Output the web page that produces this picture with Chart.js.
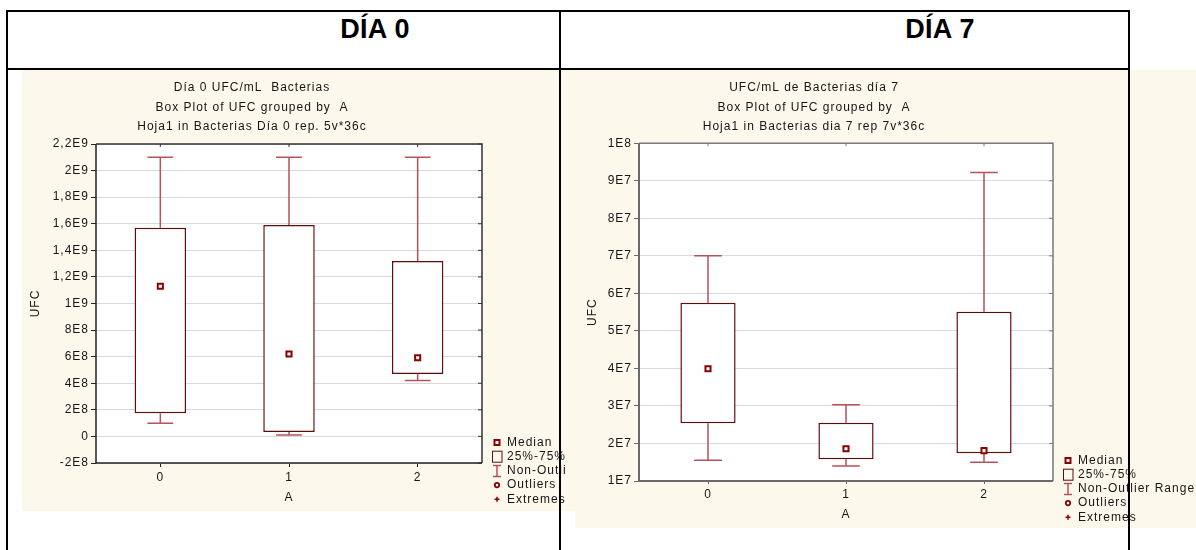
<!DOCTYPE html>
<html lang="es">
<head>
<meta charset="utf-8">
<title>UFC/mL Bacterias - Día 0 / Día 7</title>
<script src="https://cdn.jsdelivr.net/npm/chart.js@4.4.1/dist/chart.umd.min.js"></script>
<style>
  html, body { margin: 0; padding: 0; background: #fff; width: 1196px; height: 550px; overflow: hidden; }
  body { position: relative; font-family: "Liberation Sans", Arial, sans-serif; }
  .line { position: absolute; background: #000; }
  .head { position: absolute; top: 14px; font-weight: bold; font-size: 27px; letter-spacing: 0.3px; color: #000; transform: translateX(-50%); white-space: nowrap; }
  .paper { position: absolute; background: #fdf8ec; }
  .wrap { position: absolute; overflow: hidden; }
  canvas { display: block; }
</style>
</head>
<body>

<!-- fondo beige de cada gráfico -->
<div class="paper" style="left:22px; top:70px; width:553px; height:441px;"></div>
<div class="paper" style="left:575px; top:70px; width:621px; height:458px;"></div>

<div class="wrap" style="left:22px; top:70px; width:544px; height:441px;">
  <canvas id="chartDay0" width="612" height="441"></canvas>
</div>
<div class="wrap" style="left:575px; top:70px; width:621px; height:458px;">
  <canvas id="chartDay7" width="632" height="458"></canvas>
</div>

<!-- tabla -->
<div class="head" style="left:375px;">DÍA 0</div>
<div class="head" style="left:940px;">DÍA 7</div>
<div class="line" style="left:6px; top:10px; width:1124px; height:2px;"></div>
<div class="line" style="left:6px; top:68px; width:1124px; height:2px;"></div>
<div class="line" style="left:6px; top:10px; width:2px; height:540px;"></div>
<div class="line" style="left:559px; top:10px; width:2px; height:540px;"></div>
<div class="line" style="left:1128px; top:10px; width:2px; height:540px;"></div>

<script>
// Box plots UFC/mL - Statistica

// Grupos (A)
const categories = ['0', '1', '2'];

// Día 0
const day0Low = [1.0e8, 1.0e7, 4.2e8];
const day0Q1 = [1.75e8, 3.3e7, 4.7e8];
const day0Median = [1.13e9, 6.2e8, 5.92e8];
const day0Q3 = [1.57e9, 1.59e9, 1.32e9];
const day0High = [2.1e9, 2.1e9, 2.1e9];
const day0Ticks = ['-2E8', '0', '2E8', '4E8', '6E8', '8E8', '1E9', '1,2E9', '1,4E9', '1,6E9', '1,8E9', '2E9', '2,2E9'];
const day0Title = ['Día 0 UFC/mL  Bacterias', 'Box Plot of UFC grouped by  A', 'Hoja1 in Bacterias Día 0 rep. 5v*36c'];

// Día 7
const day7Low = [1.55e7, 1.4e7, 1.5e7];
const day7Q1 = [2.54e7, 1.58e7, 1.74e7];
const day7Median = [3.99e7, 1.86e7, 1.81e7];
const day7Q3 = [5.75e7, 2.55e7, 5.51e7];
const day7High = [7.0e7, 3.03e7, 9.22e7];
const day7Ticks = ['1E7', '2E7', '3E7', '4E7', '5E7', '6E7', '7E7', '8E7', '9E7', '1E8'];
const day7Title = ['UFC/mL de Bacterias día 7', 'Box Plot of UFC grouped by  A', 'Hoja1 in Bacterias dia 7 rep 7v*36c'];

const legendLabels = ['Median', '25%-75%', 'Non-Outlier Range', 'Outliers', 'Extremes'];

// Colores
const BOX_COLOR = '#5e0d0d';
const WHISKER_COLOR = '#b5525a';
const MEDIAN_COLOR = '#8b0000';
const TEXT_COLOR = '#161616';
const LETTER_SPACING = '1px';

Chart.defaults.font.family = '"Liberation Sans", Arial, sans-serif';
Chart.defaults.font.size = 12;
Chart.defaults.color = TEXT_COLOR;

// Espaciado de letras (el texto de Statistica es más ancho)
const spacingPlugin = {
    id: 'spacing',
    beforeUpdate(chart) { chart.ctx.letterSpacing = LETTER_SPACING; },
    beforeDraw(chart) { chart.ctx.letterSpacing = LETTER_SPACING; }
};

// Fondo blanco del área y marco
const framePlugin = {
    id: 'frame',
    beforeDraw(chart) {
        const { ctx, chartArea: a } = chart;
        ctx.save();
        ctx.fillStyle = '#ffffff';
        ctx.fillRect(a.left, a.top, a.width, a.height);
        ctx.restore();
    },
    afterDraw(chart, args, opts) {
        const { ctx, chartArea: a, scales: { x, y } } = chart;
        ctx.save();
        // marco superior / derecho
        ctx.strokeStyle = opts.color;
        ctx.lineWidth = opts.width;
        ctx.beginPath();
        ctx.moveTo(a.left, a.top);
        ctx.lineTo(a.right, a.top);
        ctx.lineTo(a.right, a.bottom);
        ctx.stroke();
        // marcas internas
        ctx.lineWidth = 1;
        ctx.beginPath();
        y.ticks.forEach(t => {
            const py = y.getPixelForValue(t.value);
            ctx.moveTo(a.right, py);
            ctx.lineTo(a.right - 4, py);
        });
        categories.forEach((c, i) => {
            const px = x.getPixelForValue(i);
            ctx.moveTo(px, a.top);
            ctx.lineTo(px, a.top + 3);
        });
        ctx.stroke();
        // ejes
        ctx.strokeStyle = opts.axisColor;
        ctx.lineWidth = opts.axisWidth;
        ctx.beginPath();
        ctx.moveTo(a.left, a.top);
        ctx.lineTo(a.left, a.bottom);
        ctx.lineTo(a.right, a.bottom);
        ctx.stroke();
        ctx.restore();
    }
};

// Bigotes (rango sin outliers)
const whiskerPlugin = {
    id: 'whiskers',
    beforeDatasetsDraw(chart, args, opts) {
        const { ctx, scales: { x, y } } = chart;
        const bars = chart.getDatasetMeta(1).data;
        ctx.save();
        ctx.strokeStyle = WHISKER_COLOR;
        ctx.lineWidth = 1.5;
        ctx.beginPath();
        opts.low.forEach((low, i) => {
            const cx = x.getPixelForValue(i);
            const half = bars[i].width / 4;
            const yLow = y.getPixelForValue(low);
            const yQ1 = y.getPixelForValue(opts.q1[i]);
            const yQ3 = y.getPixelForValue(opts.q3[i]);
            const yHigh = y.getPixelForValue(opts.high[i]);
            ctx.moveTo(cx, yQ3); ctx.lineTo(cx, yHigh);
            ctx.moveTo(cx - half, yHigh); ctx.lineTo(cx + half, yHigh);
            ctx.moveTo(cx, yQ1); ctx.lineTo(cx, yLow);
            ctx.moveTo(cx - half, yLow); ctx.lineTo(cx + half, yLow);
        });
        ctx.stroke();
        ctx.restore();
    }
};

// Leyenda de Statistica
const legendPlugin = {
    id: 'boxLegend',
    afterDraw(chart) {
        const { ctx, chartArea: a } = chart;
        const mx = a.right + 15;
        const tx = a.right + 25;
        ctx.save();
        ctx.letterSpacing = LETTER_SPACING;
        ctx.font = '12px "Liberation Sans", Arial, sans-serif';
        ctx.textBaseline = 'middle';
        legendLabels.forEach((label, i) => {
            const cy = a.bottom - 20.5 + i * 14.2;
            ctx.lineWidth = 1.5;
            if (i === 0) {
                ctx.fillStyle = '#fff';
                ctx.strokeStyle = MEDIAN_COLOR;
                ctx.lineWidth = 2;
                ctx.fillRect(mx - 2.5, cy - 2.5, 5, 5);
                ctx.strokeRect(mx - 2.5, cy - 2.5, 5, 5);
            } else if (i === 1) {
                ctx.strokeStyle = BOX_COLOR;
                ctx.lineWidth = 1;
                ctx.strokeRect(mx - 4.5, cy - 5.5, 9.5, 11);
            } else if (i === 2) {
                ctx.strokeStyle = WHISKER_COLOR;
                ctx.beginPath();
                ctx.moveTo(mx, cy - 5.5); ctx.lineTo(mx, cy + 5.5);
                ctx.moveTo(mx - 4, cy - 5.5); ctx.lineTo(mx + 4, cy - 5.5);
                ctx.moveTo(mx - 4, cy + 5.5); ctx.lineTo(mx + 4, cy + 5.5);
                ctx.stroke();
            } else if (i === 3) {
                ctx.fillStyle = '#fff';
                ctx.strokeStyle = MEDIAN_COLOR;
                ctx.lineWidth = 1.8;
                ctx.beginPath();
                ctx.arc(mx, cy, 2.2, 0, Math.PI * 2);
                ctx.fill();
                ctx.stroke();
            } else {
                ctx.strokeStyle = MEDIAN_COLOR;
                ctx.beginPath();
                ctx.moveTo(mx - 2.5, cy); ctx.lineTo(mx + 2.5, cy);
                ctx.moveTo(mx, cy - 2.5); ctx.lineTo(mx, cy + 2.5);
                ctx.stroke();
            }
            ctx.fillStyle = TEXT_COLOR;
            ctx.fillText(label, tx, cy);
        });
        ctx.restore();
    }
};

// Construcción de un box plot
function buildBoxPlot(canvasId, cfg) {
    const ctx = document.getElementById(canvasId);
    return new Chart(ctx, {
        type: 'bar',
        data: {
            labels: categories,
            datasets: [{
                type: 'line',
                label: 'Median',
                data: cfg.median,
                showLine: false,
                pointStyle: 'rect',
                pointRadius: 3.6,
                pointBorderWidth: 2,
                pointBorderColor: MEDIAN_COLOR,
                pointBackgroundColor: '#ffffff',
                order: 0
            }, {
                label: '25%-75%',
                data: cfg.q1.map((v, i) => [v, cfg.q3[i]]),
                backgroundColor: '#ffffff',
                borderColor: BOX_COLOR,
                borderWidth: 1.5,
                borderSkipped: false,
                barPercentage: 0.4,
                categoryPercentage: 1,
                order: 1
            }]
        },
        options: {
            responsive: false,
            animation: false,
            layout: { padding: { left: 0, right: cfg.padRight, top: 0, bottom: 0 } },
            plugins: {
                legend: { display: false },
                tooltip: { enabled: false },
                title: {
                    display: true,
                    text: cfg.title,
                    color: TEXT_COLOR,
                    font: { size: 12, weight: 'normal', lineHeight: '19.5px' },
                    padding: { top: 8.25, bottom: cfg.titleGap }
                },
                whiskers: { low: cfg.low, q1: cfg.q1, q3: cfg.q3, high: cfg.high },
                frame: cfg.frame
            },
            scales: {
                x: {
                    offset: true,
                    border: { display: false },
                    grid: { display: true, offset: false, drawOnChartArea: false, tickLength: cfg.xTick, tickColor: cfg.frame.axisColor },
                    ticks: { padding: 3, color: TEXT_COLOR },
                    title: { display: true, text: 'A', color: TEXT_COLOR, padding: { top: 0, bottom: 6 } },
                    afterFit(scale) { scale.height = cfg.xHeight; }
                },
                y: {
                    min: cfg.min,
                    max: cfg.max,
                    border: { display: false },
                    grid: { color: '#dadada', lineWidth: 1, tickLength: 5, tickColor: cfg.frame.axisColor },
                    ticks: {
                        stepSize: cfg.step,
                        padding: 2,
                        color: TEXT_COLOR,
                        callback: (value, index) => cfg.tickLabels[index]
                    },
                    title: { display: true, text: 'UFC', color: TEXT_COLOR, padding: { top: cfg.yTitlePad, bottom: 0 } },
                    afterFit(scale) { scale.width = cfg.yWidth; }
                }
            }
        },
        plugins: [spacingPlugin, framePlugin, whiskerPlugin, legendPlugin]
    });
}

document.addEventListener('DOMContentLoaded', function () {
    buildBoxPlot('chartDay0', {
        title: day0Title,
        low: day0Low, q1: day0Q1, median: day0Median, q3: day0Q3, high: day0High,
        tickLabels: day0Ticks,
        min: -2e8, max: 2.2e9, step: 2e8,
        padRight: 152, titleGap: 7.25,
        yWidth: 74, xHeight: 48, xTick: 4, yTitlePad: 6,
        frame: { color: '#333333', width: 1.5, axisColor: '#222222', axisWidth: 1.5 }
    });

    buildBoxPlot('chartDay7', {
        title: day7Title,
        low: day7Low, q1: day7Q1, median: day7Median, q3: day7Q3, high: day7High,
        tickLabels: day7Ticks,
        min: 1e7, max: 1e8, step: 1e7,
        padRight: 154, titleGap: 6.5,
        yWidth: 64, xHeight: 47, xTick: 3, yTitlePad: 10,
        frame: { color: '#7a7a7a', width: 1.5, axisColor: '#6a6a6a', axisWidth: 2 }
    });
});
</script>
</body>
</html>
